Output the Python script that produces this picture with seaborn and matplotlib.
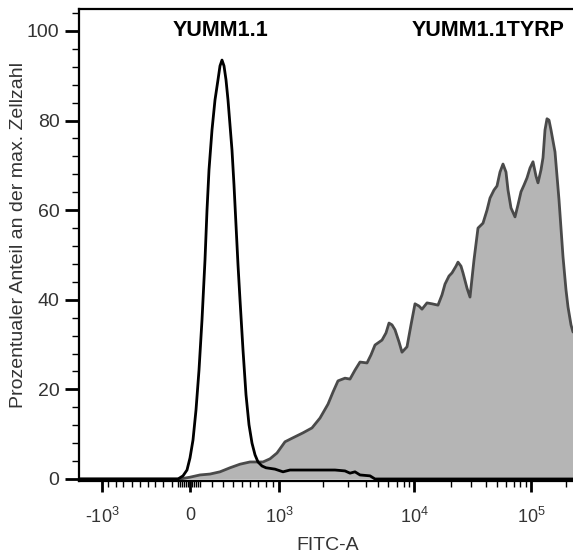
import numpy as np
import pandas as pd
import matplotlib
matplotlib.use("Agg")
import matplotlib.pyplot as plt
import seaborn as sns

# ---------------- data (x in display channels of the biexponential FITC-A axis) -------------
tyrp_channel = [0, 101, 111, 121, 131, 141, 151, 161, 171, 184, 191, 198, 206, 214, 224, 233,
                241, 249, 254, 259, 266, 271, 276, 281, 288, 292, 296, 303, 307, 310, 313, 316,
                320, 323, 328, 332, 336, 340, 343, 348, 353, 359, 363, 366, 370, 373, 377, 379,
                382, 384, 388, 391, 395, 399, 404, 408, 411, 415, 418, 421, 424, 427, 429, 432,
                436, 439, 442, 445, 448, 451, 454, 457, 459, 462, 464, 466, 468, 470, 472, 476,
                480, 484, 487, 489, 492, 494]
tyrp_pct = [0, 0, 0.4, 0.9, 1.1, 1.6, 2.5, 3.3, 3.8, 3.8, 4.5, 5.8, 8.3, 9.2, 10.3, 11.4,
            13.6, 16.7, 19.4, 21.9, 22.5, 22.3, 24.3, 26.1, 25.9, 27.7, 29.9, 31.0, 32.6, 34.8, 34.4, 33.3,
            30.6, 28.3, 29.5, 34.4, 39.1, 38.6, 37.9, 39.3, 39.1, 38.8, 41.1, 43.5, 45.3, 46.0, 47.5, 48.4,
            47.5, 46.0, 42.6, 40.6, 48.9, 56.0, 57.1, 60.0, 62.7, 64.5, 65.4, 68.5, 70.3, 68.5, 64.5, 60.5,
            58.5, 61.2, 64.1, 65.6, 67.2, 69.4, 70.8, 67.6, 66.1, 69.0, 71.7, 77.9, 80.4, 80.1, 77.9, 73.0,
            62.3, 49.6, 42.2, 38.4, 34.4, 32.8]

yumm_channel = [0, 99, 104, 108, 111, 114, 117, 120, 123, 126, 128, 130, 133, 136, 139, 141,
                143, 145, 147, 149, 151, 153, 155, 157, 159, 161, 164, 167, 170, 173, 176, 179,
                183, 187, 196, 204, 211, 231, 246, 256, 266, 271, 276, 281, 291, 296, 494]
yumm_pct = [0, 0, 0.7, 2.0, 4.7, 8.7, 15.4, 24.3, 35.5, 48.9, 60.0, 69.0, 77.9, 84.6, 89.1, 92.2,
            93.5, 92.2, 89.1, 84.6, 79.0, 73.4, 65.6, 56.7, 47.8, 40.0, 28.8, 18.8, 12.1, 8.0, 5.4, 3.8,
            2.9, 2.5, 2.2, 1.6, 2.0, 2.0, 2.0, 2.0, 1.8, 1.3, 1.6, 0.9, 0.7, 0, 0]

# axis ticks (channel positions of the biexponential scale)
x_major_pos = [23, 111, 200, 335, 452]
x_major_labels = [r"-$10^{3}$", "0", r"$10^{3}$", r"$10^{4}$", r"$10^{5}$"]
x_minor_pos = [29, 37, 44, 53, 61, 69, 76, 84, 93,
               99, 101, 103, 105, 107, 109, 113, 115, 117, 119, 121,
               133, 144, 154, 163, 171, 179, 187, 194,
               244, 269, 287, 299, 309, 318, 325, 330,
               372, 392, 407, 418, 427, 435, 441, 447, 487]
y_major = [0, 20, 40, 60, 80, 100]
y_minor = [v for v in range(0, 105, 4) if v % 20 != 0]

sample_labels = ["YUMM1.1", "YUMM1.1TYRP"]
label_channel = [142, 409]

# ---------------- style ----------------
sns.set_theme(style="ticks")
plt.rcParams["font.family"] = ["Liberation Sans", "DejaVu Sans"]
plt.rcParams["mathtext.fontset"] = "custom"
plt.rcParams["mathtext.rm"] = "Liberation Sans"
plt.rcParams["mathtext.it"] = "Liberation Sans:italic"
plt.rcParams["mathtext.bf"] = "Liberation Sans:bold"

W, H = 573, 554
fig = plt.figure(figsize=(W / 100, H / 100), dpi=100)
ax = fig.add_axes([79 / W, 1 - 481 / H, (573 - 79) / W, (481 - 9) / H])

df_t = pd.DataFrame({"channel": tyrp_channel, "pct": tyrp_pct})
df_y = pd.DataFrame({"channel": yumm_channel, "pct": yumm_pct})

ax.fill_between(df_t["channel"], df_t["pct"], 0, color="#b5b5b5", lw=0, zorder=1)
sns.lineplot(data=df_t, x="channel", y="pct", ax=ax, color="#4a4a4a", lw=2,
             estimator=None, sort=False, zorder=2)
sns.lineplot(data=df_y, x="channel", y="pct", ax=ax, color="black", lw=2,
             estimator=None, sort=False, zorder=3)

ax.set_xlim(0, 494)
ax.set_ylim(-0.45, 104.9)

ax.set_xticks(x_major_pos, x_major_labels)
ax.set_xticks(x_minor_pos, minor=True)
ax.set_yticks(y_major, [str(v) for v in y_major])
ax.set_yticks(y_minor, minor=True)

ax.tick_params(axis="x", which="major", length=8, width=2, direction="out", pad=11,
               labelsize=13, labelcolor="#333333", color="black")
ax.tick_params(axis="x", which="minor", length=4, width=1, direction="out", color="black")
ax.tick_params(axis="y", which="major", length=10, width=2, direction="out", pad=4,
               labelsize=14, labelcolor="#333333", color="black")
ax.tick_params(axis="y", which="minor", length=5, width=1, direction="out", color="black")

for side in ["left", "bottom", "top"]:
    ax.spines[side].set_visible(True)
    ax.spines[side].set_color("black")
    ax.spines[side].set_linewidth(1.6)
ax.spines["right"].set_visible(False)

ax.set_xlabel("FITC-A", fontsize=14, color="#333333")
ax.xaxis.set_label_coords((328 - 79) / 494, (481 - 545) / 472)
ax.xaxis.label.set_verticalalignment("center")
ax.set_ylabel("Prozentualer Anteil an der max. Zellzahl", fontsize=14, color="#333333")
ax.yaxis.set_label_coords((19 - 79) / 494, (481 - 235) / 472)
ax.yaxis.label.set_verticalalignment("center")

for lab, ch in zip(sample_labels, label_channel):
    ax.text(ch, 100, lab, ha="center", va="center", fontsize=15.5, fontweight="bold",
            color="black")

fig.savefig("out.png", dpi=100)
